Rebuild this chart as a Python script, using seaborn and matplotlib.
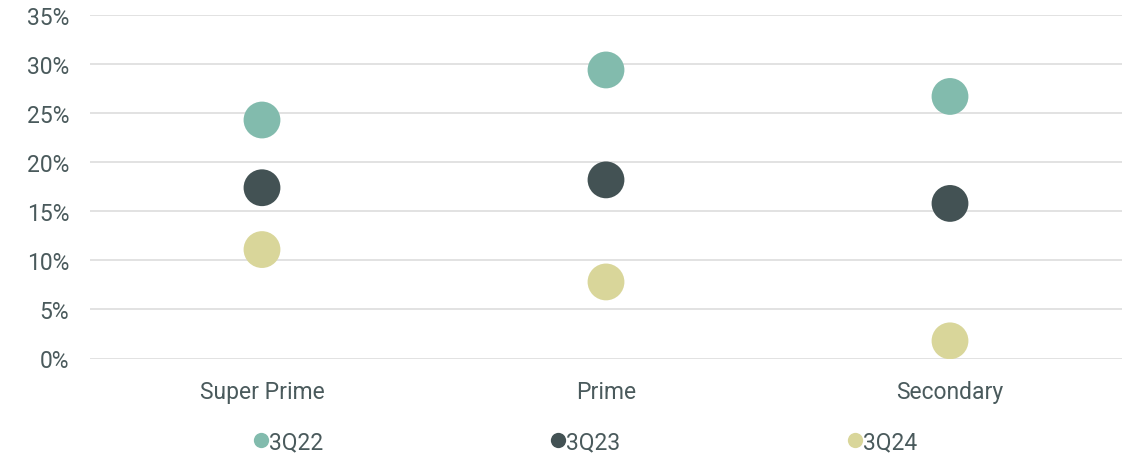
import matplotlib
matplotlib.use("Agg")
import matplotlib.pyplot as plt
import seaborn as sns
import pandas as pd
from matplotlib.lines import Line2D
from matplotlib.ticker import FuncFormatter

categories = ["Super Prime", "Prime", "Secondary"]
series = ["3Q22", "3Q23", "3Q24"]
v_3q22 = [24.3, 29.4, 26.7]
v_3q23 = [17.4, 18.2, 15.8]
v_3q24 = [11.1, 7.8, 1.8]
yticks = [0, 5, 10, 15, 20, 25, 30, 35]
colors = ["#82BBAD", "#435254", "#D9D69A"]

rows = []
for s, vals in zip(series, [v_3q22, v_3q23, v_3q24]):
    for c, v in zip(categories, vals):
        rows.append({"Category": c, "Series": s, "Value": v})
df = pd.DataFrame(rows)

sns.set_theme(style="white")
plt.rcParams["font.family"] = ["Roboto", "DejaVu Sans"]
text_color = "#4A5A5C"

fig = plt.figure(figsize=(11.32, 4.56), dpi=100)
ax = fig.add_axes([90 / 1132, 1 - 359.5 / 456, (1122 - 90) / 1132, (359.5 - 16) / 456])

sns.stripplot(data=df, x="Category", y="Value", hue="Series", order=categories,
              hue_order=series, palette=colors, jitter=False, dodge=False,
              size=26.5, linewidth=0, ax=ax, legend=False, zorder=3)

ax.set_xlim(-0.5, 2.5)
ax.set_ylim(0, 35)
ax.set_yticks(yticks)
ax.yaxis.set_major_formatter(FuncFormatter(lambda v, p: f"{int(v)}%"))
ax.grid(axis="y", color="#DDDDDD", linewidth=1.2, zorder=0)
ax.set_axisbelow(True)
for sp in ax.spines.values():
    sp.set_visible(False)
ax.tick_params(axis="both", length=0, labelsize=16.5, colors=text_color)
ax.tick_params(axis="y", pad=15)
ax.tick_params(axis="x", pad=15.5)
ax.set_xlabel("")
ax.set_ylabel("")

handles = [Line2D([0], [0], marker="o", linestyle="", markersize=11,
                  markerfacecolor=c, markeredgewidth=0, label=s)
           for s, c in zip(series, colors)]
leg = fig.legend(handles=handles, loc="center", bbox_to_anchor=(586 / 1132, 1 - 443 / 456),
                 ncol=3, frameon=False, fontsize=16.5, handlelength=0.55,
                 handletextpad=0.1, columnspacing=9.95, labelcolor=text_color)

fig.savefig("out.png", dpi=100)
